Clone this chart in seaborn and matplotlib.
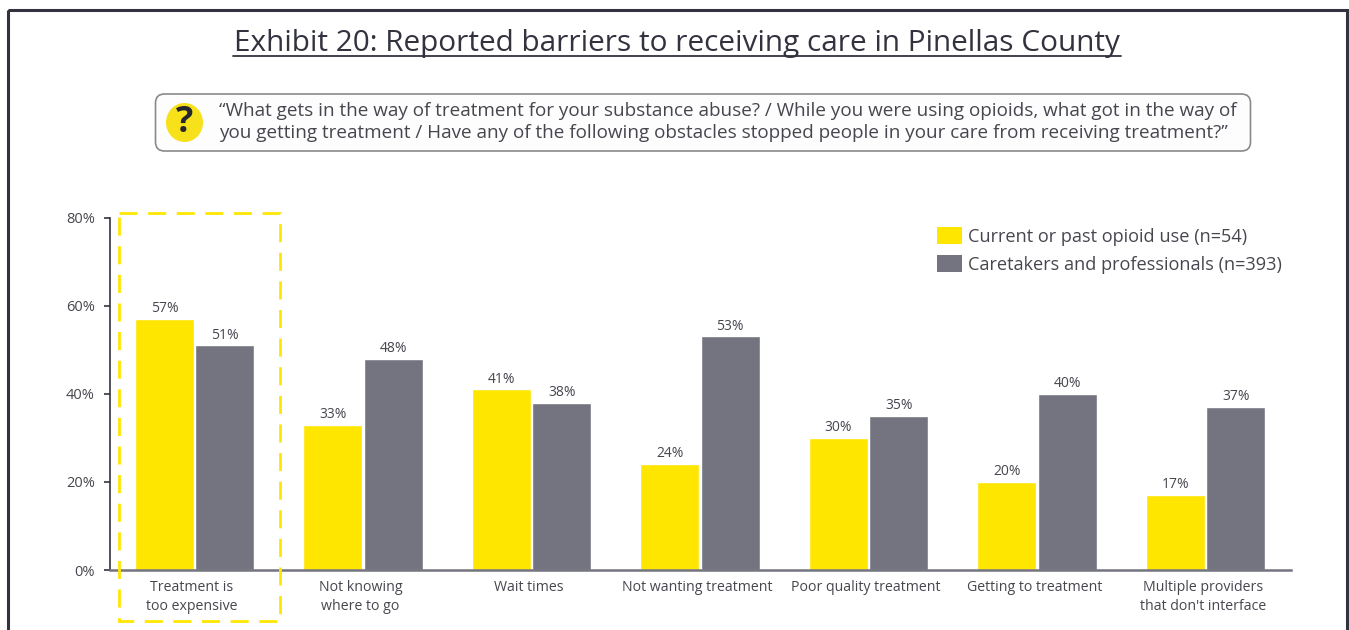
import matplotlib
matplotlib.use("Agg")
import matplotlib.pyplot as plt
import pandas as pd
import seaborn as sns
from matplotlib.patches import Rectangle, FancyBboxPatch, Ellipse
from matplotlib.transforms import ScaledTranslation

categories = ["Treatment is\ntoo expensive", "Not knowing\nwhere to go", "Wait times",
              "Not wanting treatment", "Poor quality treatment", "Getting to treatment",
              "Multiple providers\nthat don't interface"]
series_names = ["Current or past opioid use (n=54)", "Caretakers and professionals (n=393)"]
users = [57, 33, 41, 24, 30, 20, 17]
caretakers = [51, 48, 38, 53, 35, 40, 37]
y_ticks = [0, 20, 40, 60, 80]
title = "Exhibit 20: Reported barriers to receiving care in Pinellas County"
question = ["\u201cWhat gets in the way of treatment for your substance abuse? / While you were using opioids, what got in the way of",
            "you getting treatment / Have any of the following obstacles stopped people in your care from receiving treatment?\u201d"]

YELLOW = "#FFE600"
GREY = "#747480"
INK = "#333340"
TEXT = "#46464F"

W, H = 1349, 630
sns.set_theme(style="white")
plt.rcParams["font.family"] = ["Open Sans", "DejaVu Sans"]

fig = plt.figure(figsize=(W / 100, H / 100), dpi=100, facecolor="white")
ax = fig.add_axes([110 / W, 1 - 570 / H, 1181 / W, 352.5 / H])

df = pd.DataFrame({
    "category": categories * 2,
    "value": users + caretakers,
    "series": [series_names[0]] * 7 + [series_names[1]] * 7,
})
sns.barplot(data=df, x="category", y="value", hue="series", palette=[YELLOW, GREY],
            width=0.715, gap=0.02, dodge=True, legend=False, ax=ax, saturation=1)

for container in ax.containers:
    ax.bar_label(container, fmt="%d%%", padding=2, fontsize=10, color=TEXT)

ax.set_xlim(-0.5015, 6.507)
ax.set_ylim(0, 80)
ax.set_xlabel("")
ax.set_ylabel("")
ax.set_yticks(y_ticks, [f"{t}%" for t in y_ticks])
ax.tick_params(axis="y", length=4, width=1.2, color=INK, labelsize=10.5,
               labelcolor=TEXT, pad=7, left=True)
ax.tick_params(axis="x", length=0, labelsize=10.2, labelcolor=TEXT, pad=7)
# Category names sit slightly left of their bar groups
nudge = ScaledTranslation(-2.5 / 100, 0, fig.dpi_scale_trans)
for lab in ax.get_xticklabels():
    lab.set_linespacing(1.35)
    lab.set_transform(lab.get_transform() + nudge)
sns.despine(ax=ax, top=True, right=True)
ax.spines["left"].set_color(INK)
ax.spines["left"].set_linewidth(1.2)
ax.spines["bottom"].set_color(GREY)
ax.spines["bottom"].set_linewidth(1.8)

# Pixel-addressed overlay for the page furniture around the chart
page = fig.add_axes([0, 0, 1, 1], facecolor="none")
page.set_xlim(0, W)
page.set_ylim(H, 0)
page.axis("off")

# Outer frame; its lower edge runs off the page
page.add_patch(Rectangle((7.5, 10), 1339, 660, fill=False, edgecolor=INK, linewidth=2.2))

# Title with a drawn underline
page.text(676.5, 43.5, title, ha="center", va="center", fontsize=21.4, color=INK)
page.plot([233, 1121], [55.5, 55.5], color=INK, linewidth=1.3)

# Survey question call-out
page.add_patch(FancyBboxPatch((162, 100.5), 1082, 44, boxstyle="round,pad=6.5,rounding_size=9",
                              facecolor="#FDFDFD", edgecolor="#8A8A8A", linewidth=1.2))
page.add_patch(Ellipse((184.5, 122.5), 37, 39, facecolor="#F7E11A", edgecolor="none"))
page.text(184.5, 122.5, "?", ha="center", va="center", fontsize=26, fontweight="bold",
          color="#26262E")
page.text(219, 111.5, question[0], ha="left", va="center", fontsize=13.55, color=TEXT)
page.text(219, 133.5, question[1], ha="left", va="center", fontsize=13.55, color=TEXT)

# Dashed highlight around the first category
page.add_patch(Rectangle((119, 213), 161, 407.5, fill=False, edgecolor=YELLOW,
                         linewidth=2.0, linestyle=(0, (6.5, 3.8))))

# Legend
for y, color, name in zip((235.5, 263.5), (YELLOW, GREY), series_names):
    page.add_patch(Rectangle((937, y - 8.5), 24.5, 17, facecolor=color, edgecolor="none"))
    page.text(968, y + 1, name, ha="left", va="center", fontsize=13.1, color=TEXT)

fig.savefig("out.png", dpi=100)
